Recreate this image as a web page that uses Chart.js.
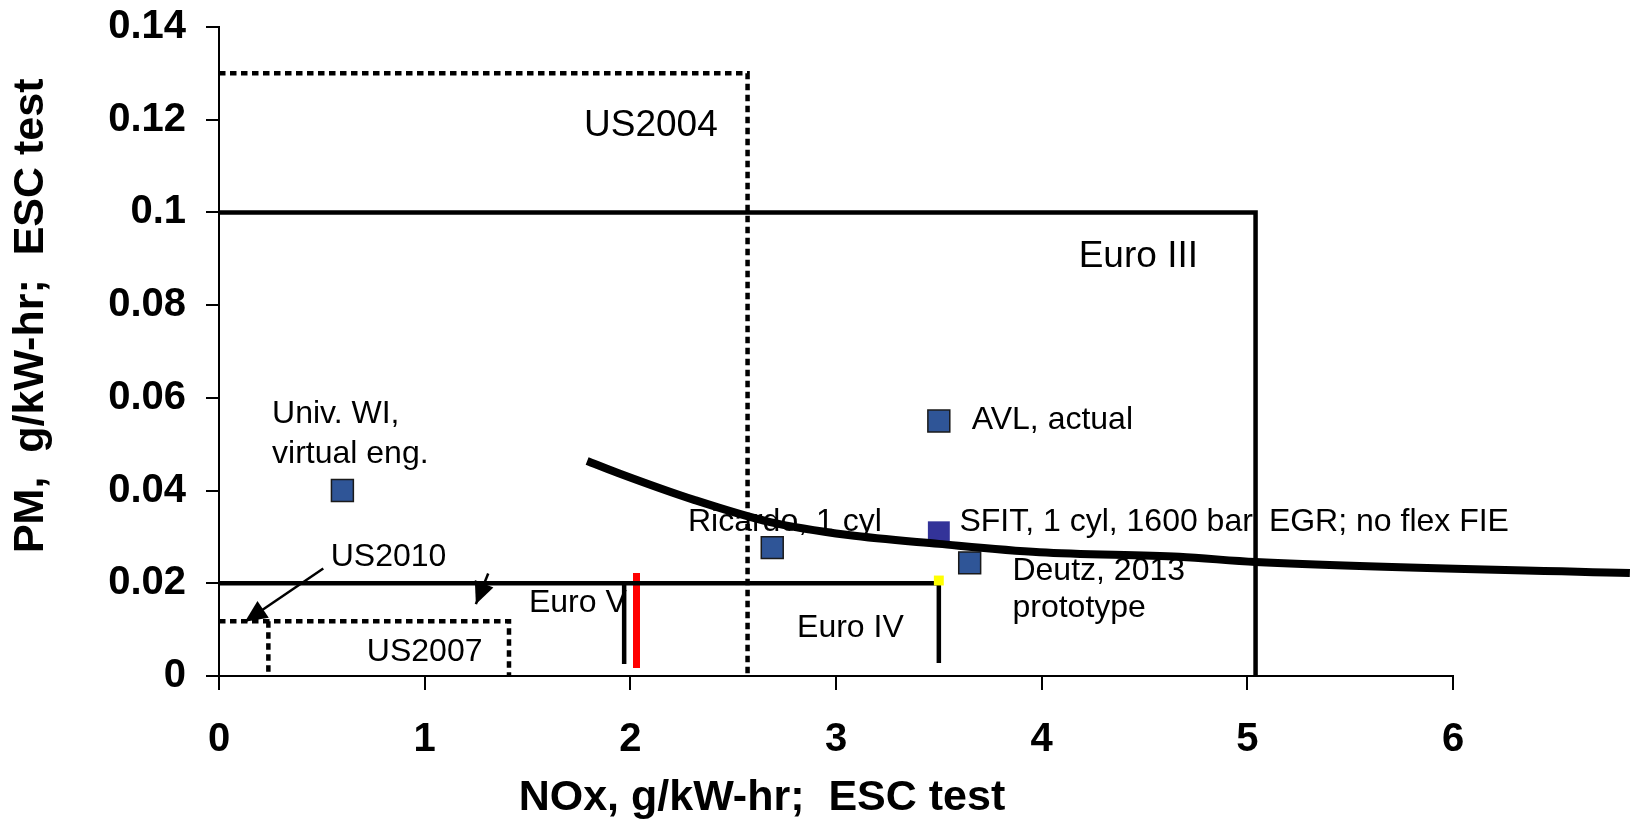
<!DOCTYPE html>
<html>
<head>
<meta charset="utf-8">
<script src="https://cdn.jsdelivr.net/npm/chart.js@4/dist/chart.umd.min.js"></script>
<style>
    html, body { margin: 0; padding: 0; background: #fff; }
</style>
</head>
<body>
<canvas id="myChart" width="1630" height="820"></canvas>
<script>
// 軸の目盛り
const xTicks = [0, 1, 2, 3, 4, 5, 6];
const yTicks = [0, 0.02, 0.04, 0.06, 0.08, 0.1, 0.12, 0.14];

// 規制値の枠 (NOx, PM)
const us2004X = [0, 2.57, 2.57];
const us2004Y = [0.13, 0.13, 0];
const euro3X = [0, 5.04, 5.04];
const euro3Y = [0.1, 0.1, 0];
const euro4X = [0, 3.5, 3.5];
const euro4Y = [0.02, 0.02, 0.0028];
const euro5X = [1.97, 1.97];
const euro5Y = [0.02, 0.0026];
const redX = [2.03, 2.03];
const redY = [0.0222, 0.0017];
const us2007X = [0, 1.41, 1.41];
const us2007Y = [0.0118, 0.0118, 0];
const us2007LeftX = [0.24, 0.24];
const us2007LeftY = [0.0118, 0];

// 矢印
const arrowUs2010X = [0.507, 0.126];
const arrowUs2010Y = [0.0232, 0.0117];
const arrowEuro5X = [1.309, 1.249];
const arrowEuro5Y = [0.0221, 0.0155];

// トレードオフ曲線
const curveX = [1.79, 1.94, 2.31, 2.68, 3.06, 3.5, 3.99, 4.67, 5.04, 6.86];
const curveY = [0.0464, 0.0438, 0.038, 0.0332, 0.0304, 0.0285, 0.0267, 0.0257, 0.0246, 0.0222];

// エンジンの測定点
const engineNames = ["Univ. WI", "AVL", "Ricardo", "Deutz"];
const engineX = [0.6, 3.5, 2.69, 3.65];
const engineY = [0.04, 0.055, 0.0277, 0.0244];
const sfitX = [3.5];
const sfitY = [0.031];
const yellowX = [3.5];
const yellowY = [0.0206];

// 注記テキスト
const labelTexts = ["US2004", "Euro III", "Univ. WI,", "virtual eng.", "AVL, actual", "Ricardo, 1 cyl",
    "SFIT, 1 cyl, 1600 bar, EGR; no flex FIE", "Deutz, 2013", "prototype", "US2010", "US2007", "Euro IV", "Euro V"];
const labelX = [2.10, 4.47, 0.258, 0.258, 3.66, 2.28, 3.60, 3.858, 3.858, 0.543, 1.0, 3.07, 1.507];
const labelY = [0.1186, 0.0904, 0.0565, 0.0479, 0.0552, 0.0332, 0.0332, 0.0226, 0.0147, 0.0257, 0.0052, 0.0104, 0.0157];
const labelAlign = ["center", "center", "left", "left", "left", "left", "left", "left", "left", "left", "center", "center", "left"];
const labelSize = [37, 37, 32, 32, 32, 32, 32, 32, 32, 32, 32, 32, 32];

const xTitle = "NOx, g/kW-hr;  ESC test";
const yTitle = "PM,  g/kW-hr;  ESC test";

const FONT = '"Liberation Sans", Arial, sans-serif';

function toPoints(xs, ys) {
    return xs.map((x, i) => ({ x, y: ys[i] }));
}

function lineSet(xs, ys, opts) {
    return Object.assign({
        data: toPoints(xs, ys),
        showLine: true,
        borderColor: "#000",
        borderWidth: 4.5,
        pointRadius: 0,
        fill: false,
        clip: false,
        order: 3,
    }, opts);
}

// 注記と軸タイトルを描くプラグイン
const labelPlugin = {
    id: "labels",
    beforeDatasetsDraw(chart) {
        const { ctx, scales } = chart;
        ctx.save();
        ctx.fillStyle = "#000";
        ctx.textBaseline = "middle";
        labelTexts.forEach((t, i) => {
            ctx.font = labelSize[i] + "px " + FONT;
            ctx.textAlign = labelAlign[i];
            ctx.fillText(t, scales.x.getPixelForValue(labelX[i]), scales.y.getPixelForValue(labelY[i]));
        });
        ctx.font = "bold 43px " + FONT;
        ctx.textAlign = "center";
        ctx.fillText(xTitle, scales.x.getPixelForValue(2.64), 798);
        ctx.translate(31, scales.y.getPixelForValue(0.0777));
        ctx.rotate(-Math.PI / 2);
        ctx.fillText(yTitle, 0, 0);
        ctx.restore();
    },
    afterDatasetsDraw(chart) {
        const ctx = chart.ctx;
        chart.data.datasets.forEach((ds, i) => {
            if (!ds.arrow) return;
            const pts = chart.getDatasetMeta(i).data;
            const a = pts[pts.length - 2];
            const b = pts[pts.length - 1];
            const ang = Math.atan2(b.y - a.y, b.x - a.x);
            const len = 22;
            const half = 10;
            const bx = b.x - len * Math.cos(ang);
            const by = b.y - len * Math.sin(ang);
            ctx.save();
            ctx.fillStyle = "#000";
            ctx.beginPath();
            ctx.moveTo(b.x, b.y);
            ctx.lineTo(bx + half * Math.sin(ang), by - half * Math.cos(ang));
            ctx.lineTo(bx - half * Math.sin(ang), by + half * Math.cos(ang));
            ctx.closePath();
            ctx.fill();
            ctx.restore();
        });
    },
};

function drawChart() {
    const dotted = { borderDash: [6.5, 4.5] };
    const datasets = [
        lineSet(curveX, curveY, { borderWidth: 8, cubicInterpolationMode: "monotone", order: 0 }),
        {
            data: toPoints(engineX, engineY),
            pointStyle: "rect",
            pointRadius: 15.5,
            pointBackgroundColor: "#2F5597",
            pointBorderColor: "#1a1a1a",
            pointBorderWidth: 1.5,
            clip: false,
            order: 2,
        },
        {
            data: toPoints(sfitX, sfitY),
            pointStyle: "rect",
            pointRadius: 15.5,
            pointBackgroundColor: "#333399",
            pointBorderColor: "#333399",
            pointBorderWidth: 0,
            clip: false,
            order: 2,
        },
        {
            data: toPoints(yellowX, yellowY),
            pointStyle: "rect",
            pointRadius: 7,
            pointBackgroundColor: "#FFFF00",
            pointBorderWidth: 0,
            clip: false,
            order: 1,
        },
        lineSet(us2004X, us2004Y, dotted),
        lineSet(us2007X, us2007Y, dotted),
        lineSet(us2007LeftX, us2007LeftY, dotted),
        lineSet(euro3X, euro3Y),
        lineSet(euro4X, euro4Y),
        lineSet(euro5X, euro5Y),
        lineSet(redX, redY, { borderColor: "#FF0000", borderWidth: 7 }),
        lineSet(arrowUs2010X, arrowUs2010Y, { borderWidth: 2.5, arrow: true }),
        lineSet(arrowEuro5X, arrowEuro5Y, { borderWidth: 2.5, arrow: true }),
    ];

    const ctx = document.getElementById("myChart");
    new Chart(ctx, {
        type: "scatter",
        data: { datasets },
        options: {
            responsive: false,
            animation: false,
            devicePixelRatio: 1,
            layout: { padding: { left: 0, top: 27, right: 177, bottom: 0 } },
            plugins: { legend: { display: false }, tooltip: { enabled: false } },
            scales: {
                x: {
                    type: "linear",
                    min: xTicks[0],
                    max: xTicks[xTicks.length - 1],
                    afterBuildTicks: (scale) => { scale.ticks = xTicks.map((v) => ({ value: v })); },
                    afterFit: (scale) => {
                        scale.height = 144;
                        scale.paddingLeft = 0;
                        scale.paddingRight = 0;
                    },
                    grid: { drawOnChartArea: false, drawTicks: true, tickLength: 14, color: "#000", lineWidth: 2 },
                    border: { display: true, color: "#000", width: 2 },
                    ticks: {
                        color: "#000",
                        padding: 26,
                        font: { family: FONT, size: 40, weight: "bold" },
                        callback: (v) => String(v),
                    },
                },
                y: {
                    type: "linear",
                    min: yTicks[0],
                    max: yTicks[yTicks.length - 1],
                    afterBuildTicks: (scale) => { scale.ticks = yTicks.map((v) => ({ value: v })); },
                    afterFit: (scale) => {
                        scale.width = 219;
                        scale.paddingTop = 0;
                        scale.paddingBottom = 0;
                    },
                    grid: { drawOnChartArea: false, drawTicks: true, tickLength: 13, color: "#000", lineWidth: 2 },
                    border: { display: true, color: "#000", width: 2 },
                    ticks: {
                        color: "#000",
                        padding: 20,
                        font: { family: FONT, size: 40, weight: "bold" },
                        callback: (v) => String(+v.toFixed(2)),
                    },
                },
            },
        },
        plugins: [labelPlugin],
    });
}

window.onload = function () {
    drawChart();
};
</script>
</body>
</html>
